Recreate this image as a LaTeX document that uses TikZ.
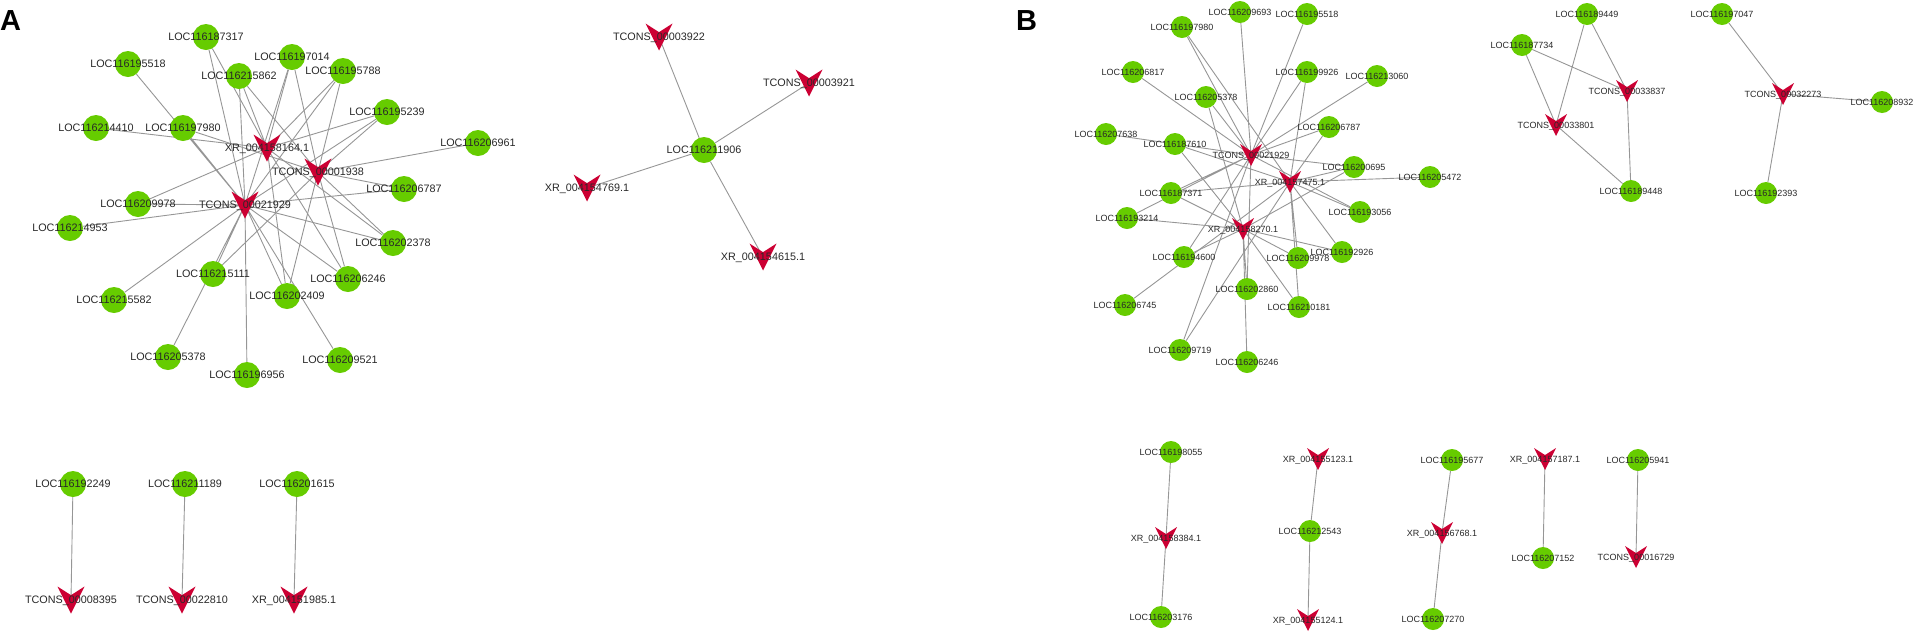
\documentclass[tikz,border=0pt]{standalone}
\usepackage{fontspec}
\setmainfont{Liberation Sans}
\usetikzlibrary{backgrounds}
\definecolor{genegreen}{RGB}{102,204,0}
\definecolor{lncred}{RGB}{204,0,51}
\definecolor{linkgray}{RGB}{150,150,150}
\definecolor{labelgray}{RGB}{40,40,40}
\tikzset{
  link/.style={draw=linkgray, line width=0.9pt},
  lblA/.style={font=\fontsize{10.8}{12}\selectfont, text=labelgray, inner sep=0pt, text depth=0pt},
  lblB/.style={font=\fontsize{9}{10}\selectfont, text=labelgray, inner sep=0pt, text depth=0pt},
  vmark/.style={rectangle, inner sep=0pt, minimum size=#1, path picture={
      \fill[lncred] (path picture bounding box.north west)
        -- ([yshift={-0.32*#1}]path picture bounding box.north)
        -- (path picture bounding box.north east)
        -- (path picture bounding box.south) -- cycle;}},
  geneA/.style={circle, fill=genegreen, inner sep=0pt, minimum size=26pt, label={[lblA]center:#1}},
  geneB/.style={circle, fill=genegreen, inner sep=0pt, minimum size=22pt, label={[lblB]center:#1}},
  lncA/.style={circle, inner sep=0pt, minimum size=1pt, label={[vmark=27pt]center:{}}, label={[lblA]center:#1}},
  lncB/.style={circle, inner sep=0pt, minimum size=1pt, label={[vmark=22pt]center:{}}, label={[lblB]center:#1}},
  panel/.style={font=\fontsize{29}{31}\selectfont\bfseries, inner sep=0pt, anchor=base west}
}
\begin{document}
\begin{tikzpicture}[x=1pt, y=-1pt]
    \useasboundingbox (0,0) rectangle (1915,633);
    \node[panel] (pa) at (0,30) {A};
    \node[panel] (pb) at (1016,30) {B};

    % A: big cluster
    \node[geneA=LOC116187317] (a187317) at (206,37) {};
    \node[geneA=LOC116195518] (a195518) at (128,64) {};
    \node[geneA=LOC116197014] (a197014) at (292,57) {};
    \node[geneA=LOC116215862] (a215862) at (239,76) {};
    \node[geneA=LOC116195788] (a195788) at (343,71) {};
    \node[geneA=LOC116214410] (a214410) at (96,128) {};
    \node[geneA=LOC116197980] (a197980) at (183,128) {};
    \node[geneA=LOC116195239] (a195239) at (387,112) {};
    \node[geneA=LOC116206961] (a206961) at (478,143) {};
    \node[geneA=LOC116206787] (a206787) at (404,189) {};
    \node[geneA=LOC116209978] (a209978) at (138,204) {};
    \node[geneA=LOC116214953] (a214953) at (70,228) {};
    \node[geneA=LOC116202378] (a202378) at (393,243) {};
    \node[geneA=LOC116215111] (a215111) at (213,274) {};
    \node[geneA=LOC116206246] (a206246) at (348,279) {};
    \node[geneA=LOC116202409] (a202409) at (287,296) {};
    \node[geneA=LOC116215582] (a215582) at (114,300) {};
    \node[geneA=LOC116205378] (a205378) at (168,357) {};
    \node[geneA=LOC116209521] (a209521) at (340,360) {};
    \node[geneA=LOC116196956] (a196956) at (247,375) {};
    \node[lncA={XR\_004158164.1}] (ax) at (267,148) {};
    \node[lncA={TCONS\_00001938}] (at1) at (318,172) {};
    \node[lncA={TCONS\_00021929}] (at2) at (245,205) {};

    % A: star
    \node[geneA=LOC116211906] (a211906) at (704,150) {};
    \node[lncA={TCONS\_00003922}] (a3922) at (659,37) {};
    \node[lncA={TCONS\_00003921}] (a3921) at (809,83) {};
    \node[lncA={XR\_004154769.1}] (a4769) at (587,188) {};
    \node[lncA={XR\_004154615.1}] (a4615) at (763,257) {};

    % A: pairs
    \node[geneA=LOC116192249] (a192249) at (73,484) {};
    \node[geneA=LOC116211189] (a211189) at (185,484) {};
    \node[geneA=LOC116201615] (a201615) at (297,484) {};
    \node[lncA={TCONS\_00008395}] (a8395) at (71,600) {};
    \node[lncA={TCONS\_00022810}] (a22810) at (182,600) {};
    \node[lncA={XR\_004151985.1}] (a51985) at (294,600) {};

    % B: big cluster
    \node[geneB=LOC116197980] (b197980) at (1182,27) {};
    \node[geneB=LOC116206817] (b206817) at (1133,72) {};
    \node[geneB=LOC116205378] (b205378) at (1206,97) {};
    \node[geneB=LOC116207638] (b207638) at (1106,134) {};
    \node[geneB=LOC116187610] (b187610) at (1175,144) {};
    \node[geneB=LOC116187371] (b187371) at (1171,193) {};
    \node[geneB=LOC116193214] (b193214) at (1127,218) {};
    \node[geneB=LOC116194600] (b194600) at (1184,257) {};
    \node[geneB=LOC116206745] (b206745) at (1125,305) {};
    \node[geneB=LOC116209693] (b209693) at (1240,12) {};
    \node[geneB=LOC116195518] (b195518) at (1307,14) {};
    \node[geneB=LOC116199926] (b199926) at (1307,72) {};
    \node[geneB=LOC116213060] (b213060) at (1377,76) {};
    \node[geneB=LOC116206787] (b206787) at (1329,127) {};
    \node[geneB=LOC116200695] (b200695) at (1354,167) {};
    \node[geneB=LOC116205472] (b205472) at (1430,177) {};
    \node[geneB=LOC116193056] (b193056) at (1360,212) {};
    \node[geneB=LOC116209978] (b209978) at (1298,258) {};
    \node[geneB=LOC116192926] (b192926) at (1342,252) {};
    \node[geneB=LOC116202860] (b202860) at (1247,289) {};
    \node[geneB=LOC116210181] (b210181) at (1299,307) {};
    \node[geneB=LOC116209719] (b209719) at (1180,350) {};
    \node[geneB=LOC116206246] (b206246) at (1247,362) {};
    \node[lncB={TCONS\_00021929}] (bt) at (1251,155) {};
    \node[lncB={XR\_004157475.1}] (bx5) at (1290,182) {};
    \node[lncB={XR\_004158270.1}] (bx2) at (1243,229) {};

    % B: small groups
    \node[geneB=LOC116187734] (b187734) at (1522,45) {};
    \node[geneB=LOC116189449] (b189449) at (1587,14) {};
    \node[geneB=LOC116189448] (b189448) at (1631,191) {};
    \node[lncB={TCONS\_00033801}] (b33801) at (1556,125) {};
    \node[lncB={TCONS\_00033837}] (b33837) at (1627,91) {};
    \node[geneB=LOC116197047] (b197047) at (1722,14) {};
    \node[geneB=LOC116208932] (b208932) at (1882,102) {};
    \node[geneB=LOC116192393] (b192393) at (1766,193) {};
    \node[lncB={TCONS\_00032273}] (b32273) at (1783,94) {};

    % B: chains
    \node[geneB=LOC116198055] (b198055) at (1171,452) {};
    \node[lncB={XR\_004158384.1}] (b8384) at (1166,538) {};
    \node[geneB=LOC116203176] (b203176) at (1161,617) {};
    \node[lncB={XR\_004155123.1}] (b5123) at (1318,459) {};
    \node[geneB=LOC116212543] (b212543) at (1310,531) {};
    \node[lncB={XR\_004155124.1}] (b5124) at (1308,620) {};
    \node[geneB=LOC116195677] (b195677) at (1452,460) {};
    \node[lncB={XR\_004156768.1}] (b6768) at (1442,533) {};
    \node[geneB=LOC116207270] (b207270) at (1433,619) {};
    \node[lncB={XR\_004157187.1}] (b7187) at (1545,459) {};
    \node[geneB=LOC116207152] (b207152) at (1543,558) {};
    \node[geneB=LOC116205941] (b205941) at (1638,460) {};
    \node[lncB={TCONS\_00016729}] (b16729) at (1636,557) {};

    \begin{scope}[on background layer]
    \path[link] (at2) -- (a195518) (at2) -- (a197980) (at2) -- (a187317) (at2) -- (a215862)
        (at2) -- (a197014) (at2) -- (a195788) (at2) -- (a195239) (at2) -- (a209978)
        (at2) -- (a214953) (at2) -- (a215582) (at2) -- (a215111) (at2) -- (a202409)
        (at2) -- (a206246) (at2) -- (a202378) (at2) -- (a206787) (at2) -- (a205378)
        (at2) -- (a196956) (at2) -- (a209521);
    \path[link] (ax) -- (a187317) (ax) -- (a215862) (ax) -- (a197014) (ax) -- (a195788)
        (ax) -- (a195239) (ax) -- (a214410) (ax) -- (a209978) (ax) -- (a202409)
        (ax) -- (a206246) (ax) -- (a202378);
    \path[link] (at1) -- (a215862) (at1) -- (a197014) (at1) -- (a195788) (at1) -- (a195239)
        (at1) -- (a197980) (at1) -- (a215111) (at1) -- (a202409) (at1) -- (a206246)
        (at1) -- (a202378) (at1) -- (a206787) (at1) -- (a206961);
    \path[link] (a211906) -- (a3922) (a211906) -- (a3921) (a211906) -- (a4769) (a211906) -- (a4615);
    \path[link] (a192249) -- (a8395);
    \path[link] (a211189) -- (a22810);
    \path[link] (a201615) -- (a51985);

    \path[link] (bt) -- (b197980) (bt) -- (b206817) (bt) -- (b205378) (bt) -- (b207638)
        (bt) -- (b187610) (bt) -- (b187371) (bt) -- (b193214) (bt) -- (b194600)
        (bt) -- (b209693) (bt) -- (b195518) (bt) -- (b199926) (bt) -- (b213060)
        (bt) -- (b206787) (bt) -- (b200695) (bt) -- (b193056) (bt) -- (b209719)
        (bt) -- (b202860);
    \path[link] (bx5) -- (b197980) (bx5) -- (b187371) (bx5) -- (b206745) (bx5) -- (b199926)
        (bx5) -- (b206787) (bx5) -- (b200695) (bx5) -- (b205472) (bx5) -- (b193056)
        (bx5) -- (b192926) (bx5) -- (b209978) (bx5) -- (b210181) (bx5) -- (b209719)
        (bx5) -- (b187610);
    \path[link] (bx2) -- (b187610) (bx2) -- (b187371) (bx2) -- (b193214) (bx2) -- (b194600)
        (bx2) -- (b205378) (bx2) -- (b202860) (bx2) -- (b210181) (bx2) -- (b192926)
        (bx2) -- (b209978) (bx2) -- (b206246) (bx2) -- (b200695);
    \path[link] (b187734) -- (b33801) (b187734) -- (b33837) (b189449) -- (b33801)
        (b189449) -- (b33837) (b33801) -- (b189448) (b33837) -- (b189448);
    \path[link] (b32273) -- (b197047) (b32273) -- (b208932) (b32273) -- (b192393);
    \path[link] (b198055) -- (b8384) (b8384) -- (b203176);
    \path[link] (b5123) -- (b212543) (b212543) -- (b5124);
    \path[link] (b195677) -- (b6768) (b6768) -- (b207270);
    \path[link] (b7187) -- (b207152);
    \path[link] (b205941) -- (b16729);
    \end{scope}
\end{tikzpicture}
\end{document}
